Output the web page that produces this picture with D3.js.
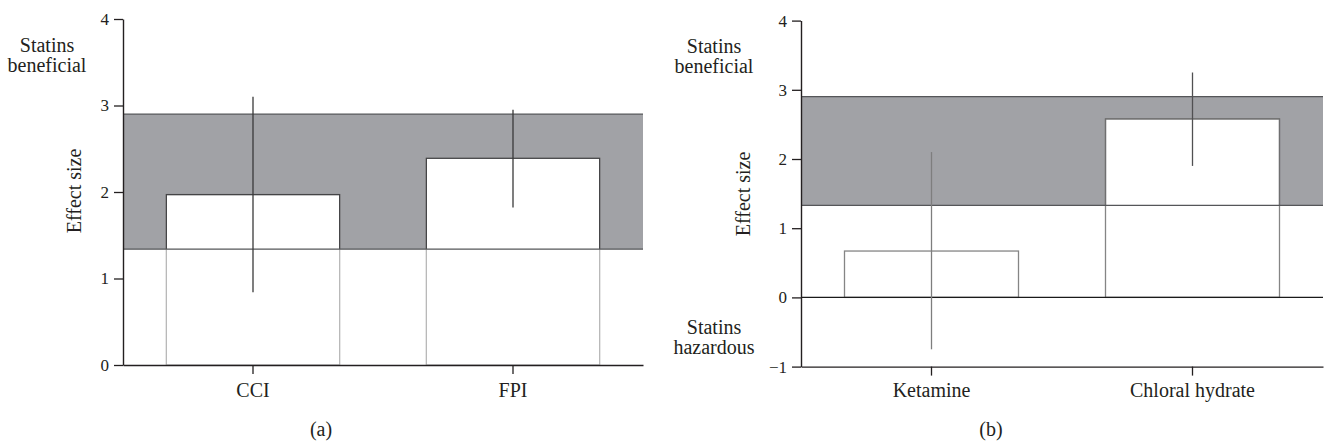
<!DOCTYPE html>
<html>
<head>
<meta charset="utf-8">
<script src="https://cdn.jsdelivr.net/npm/d3@7"></script>
<style>
  html, body { margin: 0; padding: 0; background: #fff; }
  svg { display: block; }
  text { font-family: "Liberation Serif", "DejaVu Serif", serif; fill: #231f20; }
</style>
</head>
<body>
<svg id="chart" width="1325" height="445"></svg>
<script>
// Panel (a): injury models
const categoriesA = ["CCI", "FPI"];
const effectA = [1.97, 2.39];
const ciLowA = [0.84, 1.82];
const ciHighA = [3.10, 2.95];
const bandA = [1.34, 2.90];
const ticksA = [0, 1, 2, 3, 4];

// Panel (b): anaesthetics
const categoriesB = ["Ketamine", "Chloral hydrate"];
const effectB = [0.67, 2.58];
const ciLowB = [-0.75, 1.90];
const ciHighB = [2.10, 3.25];
const bandB = [1.33, 2.90];
const ticksB = [-1, 0, 1, 2, 3, 4];

const svg = d3.select("#chart");
const fmt = d => (d < 0 ? "\u2212" + Math.abs(d) : String(d));

function drawPanel(cfg) {
  const g = svg.append("g");
  const x = d3.scaleBand().domain(cfg.categories).range([cfg.x0, cfg.x1])
    .paddingInner(1 / 3).paddingOuter(1 / 6);
  const y = d3.scaleLinear().domain(cfg.yDomain).range([cfg.yBottom, cfg.yTop]);

  const rows = cfg.categories.map((c, i) => ({
    cat: c, v: cfg.values[i], lo: cfg.lows[i], hi: cfg.highs[i], i
  }));

  // shaded reference band
  g.append("rect")
    .attr("x", cfg.x0).attr("width", cfg.x1 - cfg.x0)
    .attr("y", y(cfg.band[1])).attr("height", y(cfg.band[0]) - y(cfg.band[1]))
    .attr("fill", "#a1a2a6");

  // bars
  g.selectAll("rect.bar").data(rows).join("rect").attr("class", "bar")
    .attr("x", d => x(d.cat)).attr("width", x.bandwidth())
    .attr("y", d => y(d.v)).attr("height", d => y(cfg.base) - y(d.v))
    .attr("fill", "#fff").attr("stroke", cfg.barStroke).attr("stroke-width", 1.3);

  // darker outline where the bars sit inside the band
  const clipId = "clip-" + cfg.id;
  g.append("clipPath").attr("id", clipId).append("rect")
    .attr("x", cfg.x0 - 5).attr("width", cfg.x1 - cfg.x0 + 10)
    .attr("y", y(cfg.band[1])).attr("height", y(cfg.band[0]) - y(cfg.band[1]));
  g.append("g").attr("clip-path", `url(#${clipId})`)
    .selectAll("rect").data(rows).join("rect")
    .attr("x", d => x(d.cat)).attr("width", x.bandwidth())
    .attr("y", d => y(d.v)).attr("height", d => y(cfg.base) - y(d.v))
    .attr("fill", "none").attr("stroke", cfg.barStrokeBand).attr("stroke-width", 1.3);

  // band edges
  g.selectAll("line.edge").data(cfg.band).join("line").attr("class", "edge")
    .attr("x1", cfg.x0).attr("x2", cfg.x1)
    .attr("y1", d => y(d)).attr("y2", d => y(d))
    .attr("stroke", "#555659").attr("stroke-width", 1.3);

  // zero reference line
  if (cfg.zeroLine) {
    g.append("line").attr("x1", cfg.x0).attr("x2", cfg.x1)
      .attr("y1", y(0)).attr("y2", y(0))
      .attr("stroke", "#1a1a1a").attr("stroke-width", 1.4);
  }

  // error bars
  g.selectAll("line.err").data(rows).join("line").attr("class", "err")
    .attr("x1", d => x(d.cat) + x.bandwidth() / 2)
    .attr("x2", d => x(d.cat) + x.bandwidth() / 2)
    .attr("y1", d => y(d.lo)).attr("y2", d => y(d.hi))
    .attr("stroke", d => cfg.errStroke[d.i]).attr("stroke-width", 1.3);

  // y axis
  const ya = g.append("g").attr("transform", `translate(${cfg.x0},0)`)
    .call(d3.axisLeft(y).tickValues(cfg.ticks).tickFormat(fmt)
      .tickSize(9).tickSizeOuter(0).tickPadding(5));
  ya.selectAll("text").style("font-size", "17px");

  // x axis
  const xa = g.append("g").attr("transform", `translate(0,${cfg.yBottom})`)
    .call(d3.axisBottom(x).tickSize(9).tickSizeOuter(0).tickPadding(0));
  xa.selectAll("text").attr("y", null).attr("dy", null)
    .attr("y", 397 - cfg.yBottom).style("font-size", "20px");

  [ya, xa].forEach(a => {
    a.select(".domain").attr("stroke", "#231f20").attr("stroke-width", 1.4);
    a.selectAll(".tick line").attr("stroke", "#231f20").attr("stroke-width", 1.3);
    a.selectAll("text").attr("fill", "#231f20")
      .style("font-family", "'Liberation Serif', 'DejaVu Serif', serif");
  });

  // axis title
  g.append("text")
    .attr("transform", `translate(${cfg.titleX},${cfg.titleY}) rotate(-90)`)
    .attr("text-anchor", "middle").style("font-size", "20px")
    .text("Effect size");

  // direction notes
  cfg.notes.forEach(n => {
    const t = g.append("text").attr("text-anchor", "middle").style("font-size", "20px");
    n.lines.forEach((line, k) => {
      t.append("tspan").attr("x", cfg.noteX).attr("y", n.y + k * 19.5).text(line);
    });
  });

  // sub-figure label
  g.append("text").attr("x", cfg.capX).attr("y", 436)
    .attr("text-anchor", "middle").style("font-size", "20px")
    .text(cfg.caption);
}

drawPanel({
  id: "a", categories: categoriesA, values: effectA, lows: ciLowA, highs: ciHighA,
  band: bandA, ticks: ticksA, yDomain: [0, 4], base: 0,
  x0: 123, x1: 643, yBottom: 365, yTop: 19,
  barStroke: "#b8b8b8", barStrokeBand: "#444446",
  errStroke: ["#3a3a3a", "#3a3a3a"], zeroLine: false,
  titleX: 81, titleY: 191, noteX: 47,
  notes: [{ y: 52, lines: ["Statins", "beneficial"] }],
  capX: 321, caption: "(a)"
});

drawPanel({
  id: "b", categories: categoriesB, values: effectB, lows: ciLowB, highs: ciHighB,
  band: bandB, ticks: ticksB, yDomain: [-1, 4], base: 0,
  x0: 801, x1: 1323, yBottom: 366.6, yTop: 20.6,
  barStroke: "#858585", barStrokeBand: "#6f6f70",
  errStroke: ["#7e7e7e", "#505052"], zeroLine: true,
  titleX: 750, titleY: 194, noteX: 714,
  notes: [{ y: 53, lines: ["Statins", "beneficial"] },
          { y: 334, lines: ["Statins", "hazardous"] }],
  capX: 991, caption: "(b)"
});
</script>
</body>
</html>
